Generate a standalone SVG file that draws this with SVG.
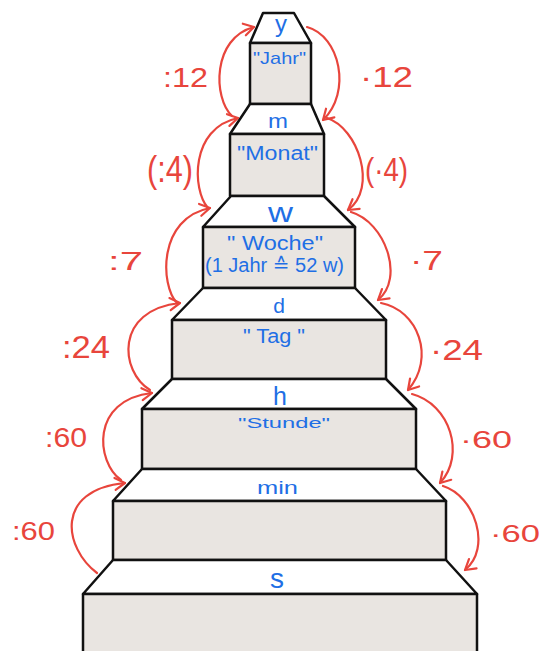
<svg xmlns="http://www.w3.org/2000/svg" width="541" height="651" viewBox="0 0 541 651">
<defs>
<style>
.trap{fill:#ffffff;stroke:#111;stroke-width:2.5;stroke-linejoin:round}
.box{fill:#e9e5e1;stroke:#111;stroke-width:2.5;stroke-linejoin:round}
.bl{fill:#1f6fe5;font-family:"Liberation Sans","DejaVu Sans",sans-serif}
.rd{fill:#e8453c;font-family:"Liberation Sans","DejaVu Sans",sans-serif}
.arc{fill:none;stroke:#e8453c;stroke-width:2.2;stroke-linecap:round}
</style>
<marker id="ah" markerWidth="16" markerHeight="16" refX="12" refY="8" orient="auto" markerUnits="userSpaceOnUse">
<path d="M2,2 L12,8 L2,14" fill="none" stroke="#e8453c" stroke-width="2.2" stroke-linecap="round" stroke-linejoin="round"/>
</marker>
</defs>
<rect width="541" height="651" fill="#ffffff"/>

<g id="step-y">
<polygon class="trap" points="263,13 294,13 311,43 250,43"/>
<rect class="box" x="250" y="43" width="61" height="61"/>
<text class="bl" x="281" y="32" font-size="24" text-anchor="middle">y</text>
<text class="bl" x="253" y="64" font-size="17" textLength="53" lengthAdjust="spacingAndGlyphs">"Jahr"</text>
</g>

<g id="step-m">
<polygon class="trap" points="250,104 311,104 324,134 230,134"/>
<rect class="box" x="230" y="134" width="94" height="62"/>
<text class="bl" x="268" y="128" font-size="20" textLength="20" lengthAdjust="spacingAndGlyphs">m</text>
<text class="bl" x="237" y="160" font-size="20" textLength="81" lengthAdjust="spacingAndGlyphs">"Monat"</text>
</g>

<g id="step-w">
<polygon class="trap" points="231,196 324,196 355,227 203,227"/>
<rect class="box" x="203" y="227" width="152" height="61"/>
<text class="bl" x="268" y="222" font-size="28" textLength="25" lengthAdjust="spacingAndGlyphs">w</text>
<text class="bl" x="227" y="250" font-size="20" textLength="96" lengthAdjust="spacingAndGlyphs">" Woche"</text>
<text class="bl" x="205" y="272" font-size="20" textLength="139" lengthAdjust="spacingAndGlyphs">(1 Jahr ≙ 52 w)</text>
</g>

<g id="step-d">
<polygon class="trap" points="203,288 355,288 386,320 172,320"/>
<rect class="box" x="172" y="320" width="214" height="59"/>
<text class="bl" x="279" y="313" font-size="21" text-anchor="middle">d</text>
<text class="bl" x="243" y="343" font-size="20" textLength="62" lengthAdjust="spacingAndGlyphs">" Tag "</text>
</g>

<g id="step-h">
<polygon class="trap" points="172,379 386,379 416,409 142,409"/>
<rect class="box" x="142" y="409" width="274" height="60"/>
<text class="bl" x="280" y="405" font-size="25" text-anchor="middle">h</text>
<text class="bl" x="238" y="428" font-size="15" textLength="92" lengthAdjust="spacingAndGlyphs">"Stunde"</text>
</g>

<g id="step-min">
<polygon class="trap" points="142,469 416,469 446,501 113,501"/>
<rect class="box" x="113" y="501" width="333" height="59"/>
<text class="bl" x="257" y="494" font-size="18" textLength="41" lengthAdjust="spacingAndGlyphs">min</text>
</g>

<g id="step-s">
<polygon class="trap" points="113,560 446,560 477,594 83,594"/>
<rect class="box" x="83" y="594" width="394" height="62"/>
<text class="bl" x="277" y="588" font-size="28" text-anchor="middle">s</text>
</g>

<g id="connectors">
<path class="arc" marker-end="url(#ah)" d="M232,116 C213,98 212,38 254,27"/>
<path class="arc" marker-end="url(#ah)" d="M208,208 C192,190 190,128 238,118"/>
<path class="arc" marker-end="url(#ah)" d="M177,303 C160,285 158,218 210,208"/>
<path class="arc" marker-end="url(#ah)" d="M150,390 C120,372 114,310 180,303"/>
<path class="arc" marker-end="url(#ah)" d="M121,480 C96,462 90,400 152,393"/>
<path class="arc" marker-end="url(#ah)" d="M97,573 C64,548 54,490 125,483"/>

<path class="arc" marker-end="url(#ah)" d="M307,27 C340,36 352,92 323,120"/>
<path class="arc" marker-end="url(#ah)" d="M327,118 C358,128 378,188 348,210"/>
<path class="arc" marker-end="url(#ah)" d="M351,212 C385,222 405,278 378,300"/>
<path class="arc" marker-end="url(#ah)" d="M381,303 C418,310 436,358 408,390"/>
<path class="arc" marker-end="url(#ah)" d="M412,394 C450,404 466,455 440,483"/>
<path class="arc" marker-end="url(#ah)" d="M443,486 C475,496 492,548 465,570"/>

<text class="rd" x="163" y="87" font-size="27" textLength="45" lengthAdjust="spacingAndGlyphs">:12</text>
<text class="rd" x="147" y="182" font-size="36" textLength="46" lengthAdjust="spacingAndGlyphs">(:4)</text>
<text class="rd" x="108" y="270" font-size="26" textLength="35" lengthAdjust="spacingAndGlyphs">:7</text>
<text class="rd" x="62" y="358" font-size="32" textLength="48" lengthAdjust="spacingAndGlyphs">:24</text>
<text class="rd" x="45" y="447" font-size="27" textLength="42" lengthAdjust="spacingAndGlyphs">:60</text>
<text class="rd" x="12" y="540" font-size="25" textLength="43" lengthAdjust="spacingAndGlyphs">:60</text>

<text class="rd" x="360" y="87" font-size="30" textLength="53" lengthAdjust="spacingAndGlyphs">·12</text>
<text class="rd" x="365" y="181" font-size="34" textLength="43" lengthAdjust="spacingAndGlyphs">(·4)</text>
<text class="rd" x="410" y="270" font-size="28" textLength="33" lengthAdjust="spacingAndGlyphs">·7</text>
<text class="rd" x="430" y="360" font-size="30" textLength="53" lengthAdjust="spacingAndGlyphs">·24</text>
<text class="rd" x="460" y="448" font-size="24" textLength="52" lengthAdjust="spacingAndGlyphs">·60</text>
<text class="rd" x="490" y="542" font-size="24" textLength="50" lengthAdjust="spacingAndGlyphs">·60</text>
</g>
</svg>
